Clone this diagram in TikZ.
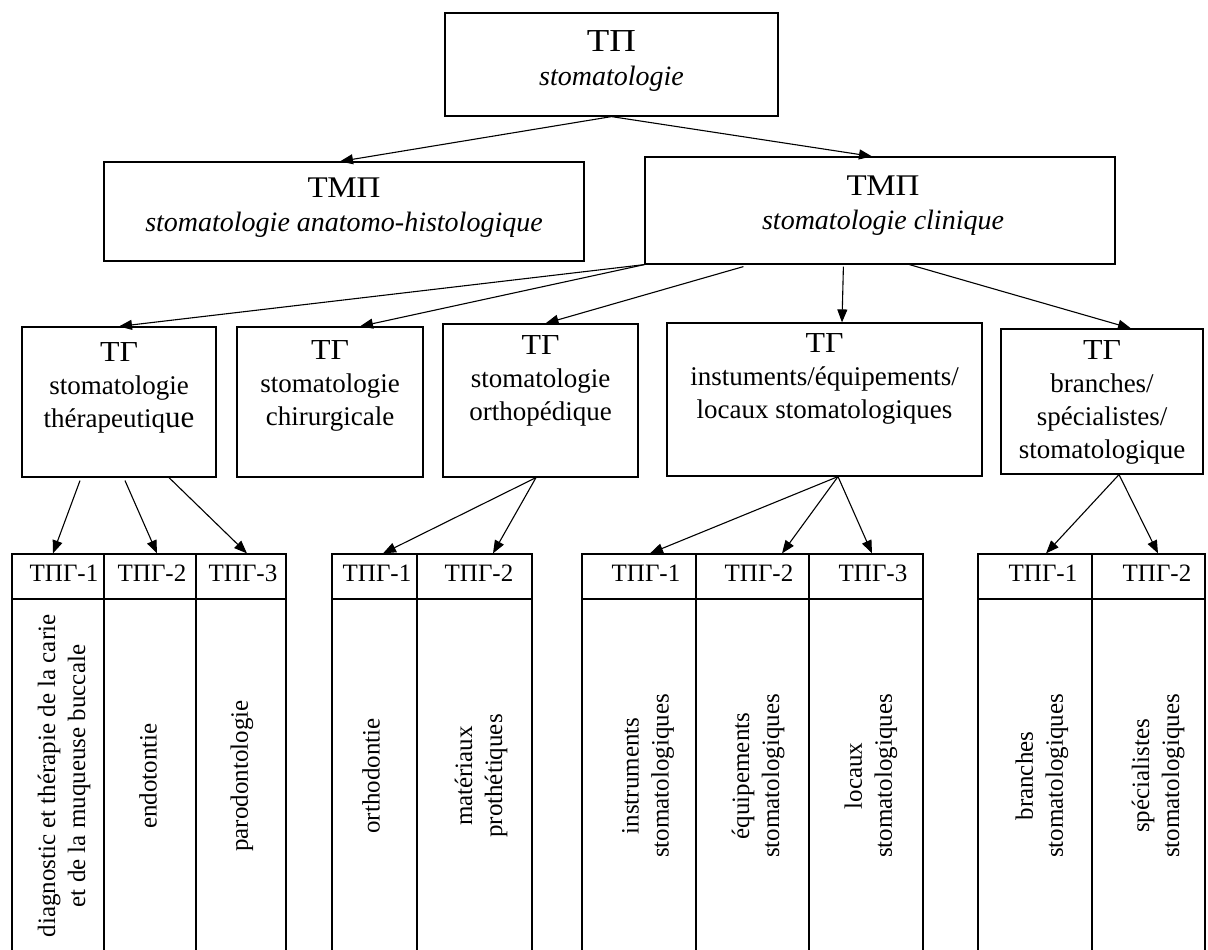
\documentclass[tikz,border=0pt]{standalone}
\usepackage{fontspec}
\setmainfont{Liberation Serif}
\usetikzlibrary{arrows.meta}
\newcommand{\wcyr}[3]{\scalebox{#1}[1]{\fontsize{#2}{#2}\selectfont #3}}
\tikzset{
  boxnode/.style={draw, line width=1.2pt, inner sep=0pt, rectangle},
  lvltxt/.style={align=center, inner sep=0pt, font=\fontsize{27}{33}\selectfont},
  toptxt/.style={align=center, inner sep=0pt, font=\fontsize{28}{34}\selectfont},
  headtxt/.style={inner sep=0pt, font=\fontsize{25}{28}\selectfont},
  vtxt/.style={align=center, inner sep=0pt, rotate=90, font=\fontsize{25}{30}\selectfont},
  arr/.style={-{Triangle[length=13pt,width=10pt]}, line width=1.1pt},
}
\begin{document}
\begin{tikzpicture}[x=1pt,y=-1pt]
\useasboundingbox (0,0) rectangle (1208,950);
\clip (0,0) rectangle (1208,950);
\fill[white] (0,0) rectangle (1208,950);
% level 1
\node[boxnode, minimum width=333pt, minimum height=103pt] (tp) at (611.5,64.5) {};
\node[toptxt] (tpt) at (611.5,61) {\wcyr{1.15}{32}{ТП}\\\textit{stomatologie}};
% level 2
\node[boxnode, minimum width=480pt, minimum height=99pt] (mpl) at (344,211.5) {};
\node[toptxt] (mplt) at (344,208) {\wcyr{1.1}{30}{ТМП}\\\textit{stomatologie anatomo-histologique}};
\node[boxnode, minimum width=470pt, minimum height=107pt] (mpr) at (880,210.5) {};
\node[toptxt] (mprt) at (883,206) {\wcyr{1.1}{30}{ТМП}\\\textit{stomatologie clinique}};
% level 3
\node[boxnode, minimum width=194pt, minimum height=150pt] (tg1) at (119,402) {};
\node[lvltxt] (tg1t) at (119,388) {\wcyr{1.1}{29}{ТГ}\\stomatologie\\thérapeutiq{\fontsize{31}{33}\selectfont ue}};
\node[boxnode, minimum width=186pt, minimum height=150pt] (tg2) at (330,402) {};
\node[lvltxt] (tg2t) at (330,386) {\wcyr{1.1}{29}{ТГ}\\stomatologie\\chirurgicale};
\node[boxnode, minimum width=195pt, minimum height=153pt] (tg3) at (540.5,400.5) {};
\node[lvltxt] (tg3t) at (540.5,381) {\wcyr{1.1}{29}{ТГ}\\stomatologie\\orthopédique};
\node[boxnode, minimum width=315pt, minimum height=153pt] (tg4) at (824.5,399.5) {};
\node[lvltxt] (tg4t) at (824.5,379) {\wcyr{1.1}{29}{ТГ}\\instuments/équipements/\\locaux stomatologiques};
\node[boxnode, minimum width=202pt, minimum height=145pt] (tg5) at (1102,401.5) {};
\node[lvltxt] (tg5t) at (1102,402) {\wcyr{1.1}{29}{ТГ}\\branches/\\spécialistes/\\stomatologique};
% tables: headers
\node[boxnode, minimum width=92pt, minimum height=45pt] (h11) at (58,576.5) {};
\node[boxnode, minimum width=92pt, minimum height=45pt] (h12) at (150,576.5) {};
\node[boxnode, minimum width=90pt, minimum height=45pt] (h13) at (241,576.5) {};
\node[boxnode, minimum width=85pt, minimum height=45pt] (h21) at (374.5,576.5) {};
\node[boxnode, minimum width=115pt, minimum height=45pt] (h22) at (474.5,576.5) {};
\node[boxnode, minimum width=114pt, minimum height=45pt] (h31) at (639,576.5) {};
\node[boxnode, minimum width=113pt, minimum height=45pt] (h32) at (752.5,576.5) {};
\node[boxnode, minimum width=114pt, minimum height=45pt] (h33) at (866,576.5) {};
\node[boxnode, minimum width=114pt, minimum height=45pt] (h41) at (1035,576.5) {};
\node[boxnode, minimum width=113pt, minimum height=45pt] (h42) at (1148.5,576.5) {};
\node[headtxt] (h11t) at (64,573) {ТПГ-1};
\node[headtxt] (h12t) at (152,573) {ТПГ-2};
\node[headtxt] (h13t) at (243,573) {ТПГ-3};
\node[headtxt] (h21t) at (377,573) {ТПГ-1};
\node[headtxt] (h22t) at (479,573) {ТПГ-2};
\node[headtxt] (h31t) at (646,573) {ТПГ-1};
\node[headtxt] (h32t) at (759,573) {ТПГ-2};
\node[headtxt] (h33t) at (873,573) {ТПГ-3};
\node[headtxt] (h41t) at (1043,573) {ТПГ-1};
\node[headtxt] (h42t) at (1157,573) {ТПГ-2};
% tables: bodies
\node[boxnode, minimum width=92pt, minimum height=360pt] (b11) at (58,779) {};
\node[boxnode, minimum width=92pt, minimum height=360pt] (b12) at (150,779) {};
\node[boxnode, minimum width=90pt, minimum height=360pt] (b13) at (241,779) {};
\node[boxnode, minimum width=85pt, minimum height=360pt] (b21) at (374.5,779) {};
\node[boxnode, minimum width=115pt, minimum height=360pt] (b22) at (474.5,779) {};
\node[boxnode, minimum width=114pt, minimum height=360pt] (b31) at (639,779) {};
\node[boxnode, minimum width=113pt, minimum height=360pt] (b32) at (752.5,779) {};
\node[boxnode, minimum width=114pt, minimum height=360pt] (b33) at (866,779) {};
\node[boxnode, minimum width=114pt, minimum height=360pt] (b41) at (1035,779) {};
\node[boxnode, minimum width=113pt, minimum height=360pt] (b42) at (1148.5,779) {};
\node[vtxt] (b11t) at (64,776) {diagnostic et thérapie de la carie\\et de la muqueuse buccale};
\node[vtxt] (b12t) at (148,776) {endotontie};
\node[vtxt] (b13t) at (242,776) {parodontologie};
\node[vtxt] (b21t) at (371,776) {orthodontie};
\node[vtxt] (b22t) at (481,776) {matériaux\\prothétiques};
\node[vtxt] (b31t) at (648,776) {instruments\\stomatologiques};
\node[vtxt] (b32t) at (758,776) {équipements\\stomatologiques};
\node[vtxt] (b33t) at (871,776) {locaux\\stomatologiques};
\node[vtxt] (b41t) at (1042,776) {branches\\stomatologiques};
\node[vtxt] (b42t) at (1158,776) {spécialistes\\stomatologiques};
% arrows level 1 -> 2
\draw[arr] (tp.south) -- ([xshift=-4pt]mpl.north);
\draw[arr] (tp.south) -- ([xshift=-8pt]mpr.north);
% arrows level 2 -> 3
\draw[arr] (mpr.south west) -- (tg1.north);
\draw[arr] (mpr.south west) -- ([xshift=30pt]tg2.north);
\draw[arr] ([xshift=99pt,yshift=-2pt]mpr.south west) -- ([xshift=5pt]tg3.north);
\draw[arr] ([xshift=199pt,yshift=-2pt]mpr.south west) -- ([xshift=17.5pt]tg4.north);
\draw[arr] ([xshift=265pt]mpr.south west) -- ([xshift=29pt]tg5.north);
% arrows level 3 -> 4
\draw[arr] ([xshift=-39pt,yshift=-3pt]tg1.south) -- ([xshift=-5pt]h11.north);
\draw[arr] ([xshift=6pt,yshift=-3pt]tg1.south) -- ([xshift=7pt]h12.north);
\draw[arr] ([xshift=50pt]tg1.south) -- ([xshift=6pt]h13.north);
\draw[arr] ([xshift=-4.5pt]tg3.south) -- ([xshift=8.5pt]h21.north);
\draw[arr] ([xshift=-4.5pt]tg3.south) -- ([xshift=18.5pt]h22.north);
\draw[arr] ([xshift=13.5pt]tg4.south) -- ([xshift=11pt]h31.north);
\draw[arr] ([xshift=13.5pt]tg4.south) -- ([xshift=29.5pt]h32.north);
\draw[arr] ([xshift=13.5pt]tg4.south) -- ([xshift=6pt]h33.north);
\draw[arr] ([xshift=17pt]tg5.south) -- ([xshift=11pt]h41.north);
\draw[arr] ([xshift=17pt]tg5.south) -- ([xshift=9.5pt]h42.north);
\end{tikzpicture}
\end{document}
